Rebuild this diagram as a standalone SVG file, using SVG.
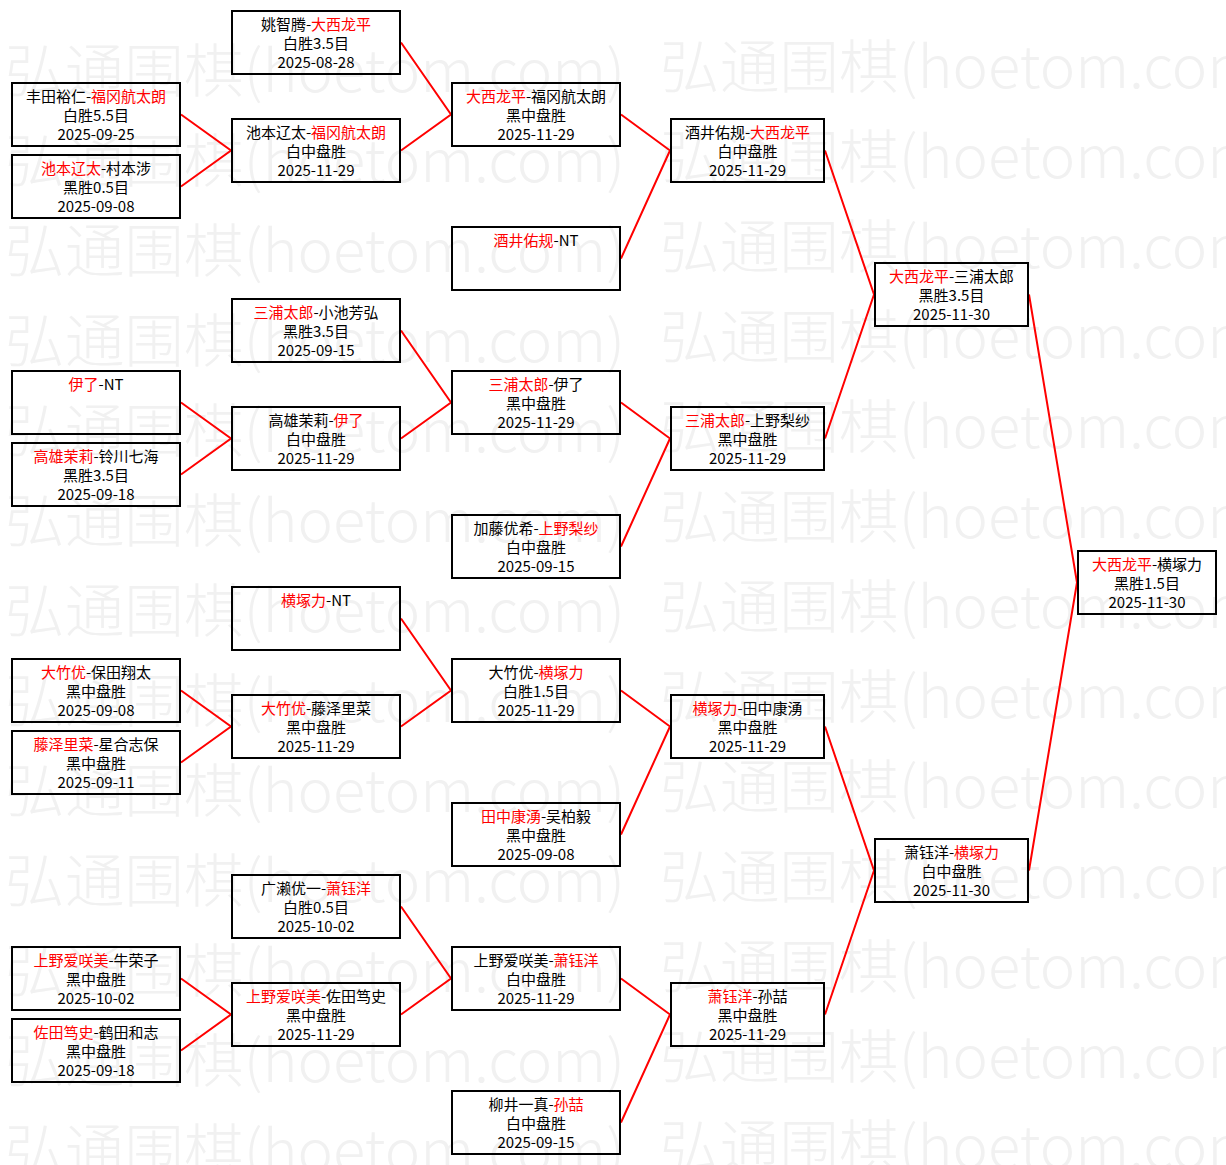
<svg xmlns="http://www.w3.org/2000/svg" width="1226" height="1165" viewBox="0 0 1226 1165">
<style>
.wm{font-family:"Noto Sans CJK SC","Liberation Mono",sans-serif;font-size:58px;font-weight:200;fill:#f1f1f1}
.box{fill:none;stroke:#000;stroke-width:2}
.t{font-family:"Noto Sans CJK SC","Noto Sans",sans-serif;font-size:15px;fill:#000;text-anchor:middle}
.r{fill:#ff0000}
.con{fill:none;stroke:#ff0000;stroke-width:2}
</style>
<rect x="0" y="0" width="1226" height="1165" fill="#ffffff"/>
<g id="watermark">
<text class="wm" x="5" y="92" textLength="620" lengthAdjust="spacingAndGlyphs">弘通围棋(hoetom.com)</text>
<text class="wm" x="5" y="182" textLength="620" lengthAdjust="spacingAndGlyphs">弘通围棋(hoetom.com)</text>
<text class="wm" x="5" y="272" textLength="620" lengthAdjust="spacingAndGlyphs">弘通围棋(hoetom.com)</text>
<text class="wm" x="5" y="362" textLength="620" lengthAdjust="spacingAndGlyphs">弘通围棋(hoetom.com)</text>
<text class="wm" x="5" y="452" textLength="620" lengthAdjust="spacingAndGlyphs">弘通围棋(hoetom.com)</text>
<text class="wm" x="5" y="542" textLength="620" lengthAdjust="spacingAndGlyphs">弘通围棋(hoetom.com)</text>
<text class="wm" x="5" y="632" textLength="620" lengthAdjust="spacingAndGlyphs">弘通围棋(hoetom.com)</text>
<text class="wm" x="5" y="722" textLength="620" lengthAdjust="spacingAndGlyphs">弘通围棋(hoetom.com)</text>
<text class="wm" x="5" y="812" textLength="620" lengthAdjust="spacingAndGlyphs">弘通围棋(hoetom.com)</text>
<text class="wm" x="5" y="902" textLength="620" lengthAdjust="spacingAndGlyphs">弘通围棋(hoetom.com)</text>
<text class="wm" x="5" y="992" textLength="620" lengthAdjust="spacingAndGlyphs">弘通围棋(hoetom.com)</text>
<text class="wm" x="5" y="1082" textLength="620" lengthAdjust="spacingAndGlyphs">弘通围棋(hoetom.com)</text>
<text class="wm" x="5" y="1172" textLength="620" lengthAdjust="spacingAndGlyphs">弘通围棋(hoetom.com)</text>
<text class="wm" x="660" y="88" textLength="620" lengthAdjust="spacingAndGlyphs">弘通围棋(hoetom.com)</text>
<text class="wm" x="660" y="178" textLength="620" lengthAdjust="spacingAndGlyphs">弘通围棋(hoetom.com)</text>
<text class="wm" x="660" y="268" textLength="620" lengthAdjust="spacingAndGlyphs">弘通围棋(hoetom.com)</text>
<text class="wm" x="660" y="358" textLength="620" lengthAdjust="spacingAndGlyphs">弘通围棋(hoetom.com)</text>
<text class="wm" x="660" y="448" textLength="620" lengthAdjust="spacingAndGlyphs">弘通围棋(hoetom.com)</text>
<text class="wm" x="660" y="538" textLength="620" lengthAdjust="spacingAndGlyphs">弘通围棋(hoetom.com)</text>
<text class="wm" x="660" y="628" textLength="620" lengthAdjust="spacingAndGlyphs">弘通围棋(hoetom.com)</text>
<text class="wm" x="660" y="718" textLength="620" lengthAdjust="spacingAndGlyphs">弘通围棋(hoetom.com)</text>
<text class="wm" x="660" y="808" textLength="620" lengthAdjust="spacingAndGlyphs">弘通围棋(hoetom.com)</text>
<text class="wm" x="660" y="898" textLength="620" lengthAdjust="spacingAndGlyphs">弘通围棋(hoetom.com)</text>
<text class="wm" x="660" y="988" textLength="620" lengthAdjust="spacingAndGlyphs">弘通围棋(hoetom.com)</text>
<text class="wm" x="660" y="1078" textLength="620" lengthAdjust="spacingAndGlyphs">弘通围棋(hoetom.com)</text>
<text class="wm" x="660" y="1168" textLength="620" lengthAdjust="spacingAndGlyphs">弘通围棋(hoetom.com)</text>
</g>
<g id="connectors">
<polyline class="con" points="181,114.5 231,150.5 181,186.5"/>
<polyline class="con" points="181,402.5 231,438.5 181,474.5"/>
<polyline class="con" points="181,690.5 231,726.5 181,762.5"/>
<polyline class="con" points="181,978.5 231,1014.5 181,1050.5"/>
<polyline class="con" points="401,42.5 451,114.5 401,150.5"/>
<polyline class="con" points="401,330.5 451,402.5 401,438.5"/>
<polyline class="con" points="401,618.5 451,690.5 401,726.5"/>
<polyline class="con" points="401,906.5 451,978.5 401,1014.5"/>
<polyline class="con" points="621,114.5 670,150.5 621,258.5"/>
<polyline class="con" points="621,402.5 670,438.5 621,546.5"/>
<polyline class="con" points="621,690.5 670,726.5 621,834.5"/>
<polyline class="con" points="621,978.5 670,1014.5 621,1122.5"/>
<polyline class="con" points="825,150.5 874,294.5 825,438.5"/>
<polyline class="con" points="825,726.5 874,870.5 825,1014.5"/>
<polyline class="con" points="1029,294.5 1077,582.5 1029,870.5"/>
</g>
<g id="n0_0"><rect class="box" x="12" y="83" width="168" height="63"/><text class="t" x="96" y="102">丰田裕仁-<tspan class="r">福冈航太朗</tspan></text><text class="t" x="96" y="121">白胜5.5目</text><text class="t" x="96" y="140">2025-09-25</text></g>
<g id="n0_1"><rect class="box" x="12" y="155" width="168" height="63"/><text class="t" x="96" y="174"><tspan class="r">池本辽太</tspan>-村本涉</text><text class="t" x="96" y="193">黑胜0.5目</text><text class="t" x="96" y="212">2025-09-08</text></g>
<g id="n0_2"><rect class="box" x="12" y="371" width="168" height="63"/><text class="t" x="96" y="390"><tspan class="r">伊了</tspan>-NT</text></g>
<g id="n0_3"><rect class="box" x="12" y="443" width="168" height="63"/><text class="t" x="96" y="462"><tspan class="r">高雄茉莉</tspan>-铃川七海</text><text class="t" x="96" y="481">黑胜3.5目</text><text class="t" x="96" y="500">2025-09-18</text></g>
<g id="n0_4"><rect class="box" x="12" y="659" width="168" height="63"/><text class="t" x="96" y="678"><tspan class="r">大竹优</tspan>-保田翔太</text><text class="t" x="96" y="697">黑中盘胜</text><text class="t" x="96" y="716">2025-09-08</text></g>
<g id="n0_5"><rect class="box" x="12" y="731" width="168" height="63"/><text class="t" x="96" y="750"><tspan class="r">藤泽里菜</tspan>-星合志保</text><text class="t" x="96" y="769">黑中盘胜</text><text class="t" x="96" y="788">2025-09-11</text></g>
<g id="n0_6"><rect class="box" x="12" y="947" width="168" height="63"/><text class="t" x="96" y="966"><tspan class="r">上野爱咲美</tspan>-牛荣子</text><text class="t" x="96" y="985">黑中盘胜</text><text class="t" x="96" y="1004">2025-10-02</text></g>
<g id="n0_7"><rect class="box" x="12" y="1019" width="168" height="63"/><text class="t" x="96" y="1038"><tspan class="r">佐田笃史</tspan>-鹤田和志</text><text class="t" x="96" y="1057">黑中盘胜</text><text class="t" x="96" y="1076">2025-09-18</text></g>
<g id="n1_0"><rect class="box" x="232" y="11" width="168" height="63"/><text class="t" x="316" y="30">姚智腾-<tspan class="r">大西龙平</tspan></text><text class="t" x="316" y="49">白胜3.5目</text><text class="t" x="316" y="68">2025-08-28</text></g>
<g id="n1_1"><rect class="box" x="232" y="119" width="168" height="63"/><text class="t" x="316" y="138">池本辽太-<tspan class="r">福冈航太朗</tspan></text><text class="t" x="316" y="157">白中盘胜</text><text class="t" x="316" y="176">2025-11-29</text></g>
<g id="n1_2"><rect class="box" x="232" y="299" width="168" height="63"/><text class="t" x="316" y="318"><tspan class="r">三浦太郎</tspan>-小池芳弘</text><text class="t" x="316" y="337">黑胜3.5目</text><text class="t" x="316" y="356">2025-09-15</text></g>
<g id="n1_3"><rect class="box" x="232" y="407" width="168" height="63"/><text class="t" x="316" y="426">高雄茉莉-<tspan class="r">伊了</tspan></text><text class="t" x="316" y="445">白中盘胜</text><text class="t" x="316" y="464">2025-11-29</text></g>
<g id="n1_4"><rect class="box" x="232" y="587" width="168" height="63"/><text class="t" x="316" y="606"><tspan class="r">横塚力</tspan>-NT</text></g>
<g id="n1_5"><rect class="box" x="232" y="695" width="168" height="63"/><text class="t" x="316" y="714"><tspan class="r">大竹优</tspan>-藤泽里菜</text><text class="t" x="316" y="733">黑中盘胜</text><text class="t" x="316" y="752">2025-11-29</text></g>
<g id="n1_6"><rect class="box" x="232" y="875" width="168" height="63"/><text class="t" x="316" y="894">广濑优一-<tspan class="r">萧钰洋</tspan></text><text class="t" x="316" y="913">白胜0.5目</text><text class="t" x="316" y="932">2025-10-02</text></g>
<g id="n1_7"><rect class="box" x="232" y="983" width="168" height="63"/><text class="t" x="316" y="1002"><tspan class="r">上野爱咲美</tspan>-佐田笃史</text><text class="t" x="316" y="1021">黑中盘胜</text><text class="t" x="316" y="1040">2025-11-29</text></g>
<g id="n2_0"><rect class="box" x="452" y="83" width="168" height="63"/><text class="t" x="536" y="102"><tspan class="r">大西龙平</tspan>-福冈航太朗</text><text class="t" x="536" y="121">黑中盘胜</text><text class="t" x="536" y="140">2025-11-29</text></g>
<g id="n2_1"><rect class="box" x="452" y="227" width="168" height="63"/><text class="t" x="536" y="246"><tspan class="r">酒井佑规</tspan>-NT</text></g>
<g id="n2_2"><rect class="box" x="452" y="371" width="168" height="63"/><text class="t" x="536" y="390"><tspan class="r">三浦太郎</tspan>-伊了</text><text class="t" x="536" y="409">黑中盘胜</text><text class="t" x="536" y="428">2025-11-29</text></g>
<g id="n2_3"><rect class="box" x="452" y="515" width="168" height="63"/><text class="t" x="536" y="534">加藤优希-<tspan class="r">上野梨纱</tspan></text><text class="t" x="536" y="553">白中盘胜</text><text class="t" x="536" y="572">2025-09-15</text></g>
<g id="n2_4"><rect class="box" x="452" y="659" width="168" height="63"/><text class="t" x="536" y="678">大竹优-<tspan class="r">横塚力</tspan></text><text class="t" x="536" y="697">白胜1.5目</text><text class="t" x="536" y="716">2025-11-29</text></g>
<g id="n2_5"><rect class="box" x="452" y="803" width="168" height="63"/><text class="t" x="536" y="822"><tspan class="r">田中康湧</tspan>-吴柏毅</text><text class="t" x="536" y="841">黑中盘胜</text><text class="t" x="536" y="860">2025-09-08</text></g>
<g id="n2_6"><rect class="box" x="452" y="947" width="168" height="63"/><text class="t" x="536" y="966">上野爱咲美-<tspan class="r">萧钰洋</tspan></text><text class="t" x="536" y="985">白中盘胜</text><text class="t" x="536" y="1004">2025-11-29</text></g>
<g id="n2_7"><rect class="box" x="452" y="1091" width="168" height="63"/><text class="t" x="536" y="1110">柳井一真-<tspan class="r">孙喆</tspan></text><text class="t" x="536" y="1129">白中盘胜</text><text class="t" x="536" y="1148">2025-09-15</text></g>
<g id="n3_0"><rect class="box" x="671" y="119" width="153" height="63"/><text class="t" x="747.5" y="138">酒井佑规-<tspan class="r">大西龙平</tspan></text><text class="t" x="747.5" y="157">白中盘胜</text><text class="t" x="747.5" y="176">2025-11-29</text></g>
<g id="n3_1"><rect class="box" x="671" y="407" width="153" height="63"/><text class="t" x="747.5" y="426"><tspan class="r">三浦太郎</tspan>-上野梨纱</text><text class="t" x="747.5" y="445">黑中盘胜</text><text class="t" x="747.5" y="464">2025-11-29</text></g>
<g id="n3_2"><rect class="box" x="671" y="695" width="153" height="63"/><text class="t" x="747.5" y="714"><tspan class="r">横塚力</tspan>-田中康湧</text><text class="t" x="747.5" y="733">黑中盘胜</text><text class="t" x="747.5" y="752">2025-11-29</text></g>
<g id="n3_3"><rect class="box" x="671" y="983" width="153" height="63"/><text class="t" x="747.5" y="1002"><tspan class="r">萧钰洋</tspan>-孙喆</text><text class="t" x="747.5" y="1021">黑中盘胜</text><text class="t" x="747.5" y="1040">2025-11-29</text></g>
<g id="n4_0"><rect class="box" x="875" y="263" width="153" height="63"/><text class="t" x="951.5" y="282"><tspan class="r">大西龙平</tspan>-三浦太郎</text><text class="t" x="951.5" y="301">黑胜3.5目</text><text class="t" x="951.5" y="320">2025-11-30</text></g>
<g id="n4_1"><rect class="box" x="875" y="839" width="153" height="63"/><text class="t" x="951.5" y="858">萧钰洋-<tspan class="r">横塚力</tspan></text><text class="t" x="951.5" y="877">白中盘胜</text><text class="t" x="951.5" y="896">2025-11-30</text></g>
<g id="n5_0"><rect class="box" x="1078" y="551" width="138" height="63"/><text class="t" x="1147" y="570"><tspan class="r">大西龙平</tspan>-横塚力</text><text class="t" x="1147" y="589">黑胜1.5目</text><text class="t" x="1147" y="608">2025-11-30</text></g>
</svg>
